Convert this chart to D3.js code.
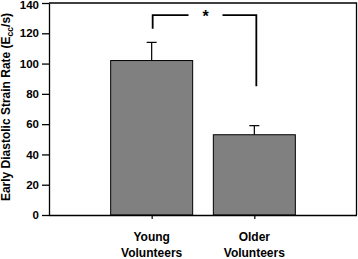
<!DOCTYPE html>
<html><head><meta charset="utf-8">
<script src="https://cdn.jsdelivr.net/npm/d3@7"></script>
<style>body{margin:0;background:#fff}svg{display:block}text{font-family:"Liberation Sans",Arial,sans-serif;font-weight:bold}</style>
</head><body><svg id="c" width="358" height="259"></svg>
<script>
const categories = [["Young","Volunteers"],["Older","Volunteers"]];
const means = [102, 53];
const errors = [12, 6];
const yTicks = [0,20,40,60,80,100,120,140];
const sigLabel = "*";
const yTitle = "Early Diastolic Strain Rate (E";

const svg = d3.select("#c");
const m = {l:49, r:1, t:3, b:44};
const W = 358, H = 259;
const x = d3.scalePoint().domain(d3.range(categories.length)).range([m.l, W-m.r]).padding(1);
const y = d3.scaleLinear().domain([0,140]).range([H-m.b, m.t]);
const bw = 82;

// frame top/right
svg.append("path").attr("d",`M${m.l},${y(140)}H${W-m.r-0.5}V${y(0)}`).attr("fill","none").attr("stroke","#000").attr("stroke-width",1.3);

// bars
svg.selectAll("rect.bar").data(means).join("rect")
  .attr("x",(d,i)=>x(i)-bw/2).attr("y",d=>y(d)).attr("width",bw).attr("height",d=>y(0)-y(d))
  .attr("fill","#808080").attr("stroke","#000").attr("stroke-width",1);

// error bars
const eg = svg.append("g").attr("stroke","#000").attr("stroke-width",1.2);
means.forEach((d,i)=>{
  eg.append("line").attr("x1",x(i)).attr("x2",x(i)).attr("y1",y(d)).attr("y2",y(d+errors[i]));
  eg.append("line").attr("x1",x(i)-5).attr("x2",x(i)+5).attr("y1",y(d+errors[i])).attr("y2",y(d+errors[i]));
});

// y axis
const ya = svg.append("g").attr("transform",`translate(${m.l},0)`)
  .call(d3.axisLeft(y).tickValues(yTicks).tickSize(7).tickSizeOuter(0).tickPadding(3));
ya.selectAll("path,line").attr("stroke","#000").attr("stroke-width",1.3);
ya.selectAll("text").attr("font-size",11.5).attr("fill","#000").style("font-family","'Liberation Sans',Arial,sans-serif").style("font-weight","bold");
ya.selectAll(".tick").filter(d=>d===140).select("text").attr("dy","0.32em").attr("y",1.5);

// x axis
const xa = svg.append("g").attr("transform",`translate(0,${y(0)})`)
  .call(d3.axisBottom(x).tickSize(4).tickSizeOuter(0).tickFormat(""));
xa.select("path").attr("d",`M${m.l},0.5H${W-m.r}`).attr("stroke","#000").attr("stroke-width",1.3);
xa.selectAll("line").attr("stroke","#000").attr("stroke-width",1.2);

// x labels
categories.forEach((c,i)=>{
  const t = svg.append("text").attr("text-anchor","middle").attr("font-size",12).attr("fill","#000");
  t.append("tspan").attr("x",x(i)).attr("y",241).text(c[0]);
  t.append("tspan").attr("x",x(i)).attr("y",256.5).text(c[1]);
});

// y title
const yt = svg.append("text").attr("transform",`translate(10,107) rotate(-90)`)
  .attr("text-anchor","middle").attr("font-size",12).attr("fill","#000");
yt.append("tspan").text(yTitle);
yt.append("tspan").attr("font-size",8.5).attr("dy",2.5).text("cc");
yt.append("tspan").attr("dy",-2.5).text("/s)");

// significance bracket
const bx1 = x(0)+1, bx2 = x(1)+2, by = y(132);
const mid = (bx1+bx2)/2 + 1;
const bg = svg.append("g").attr("stroke","#000").attr("stroke-width",1.8).attr("fill","none");
bg.append("path").attr("d",`M${bx1},${y(123)}V${by}H${mid-17}`);
bg.append("path").attr("d",`M${mid+17},${by}H${bx2}V${y(85)}`);
svg.append("text").attr("x",mid).attr("y",by+7).attr("text-anchor","middle").attr("font-size",16).attr("fill","#000").text(sigLabel);
</script></body></html>
